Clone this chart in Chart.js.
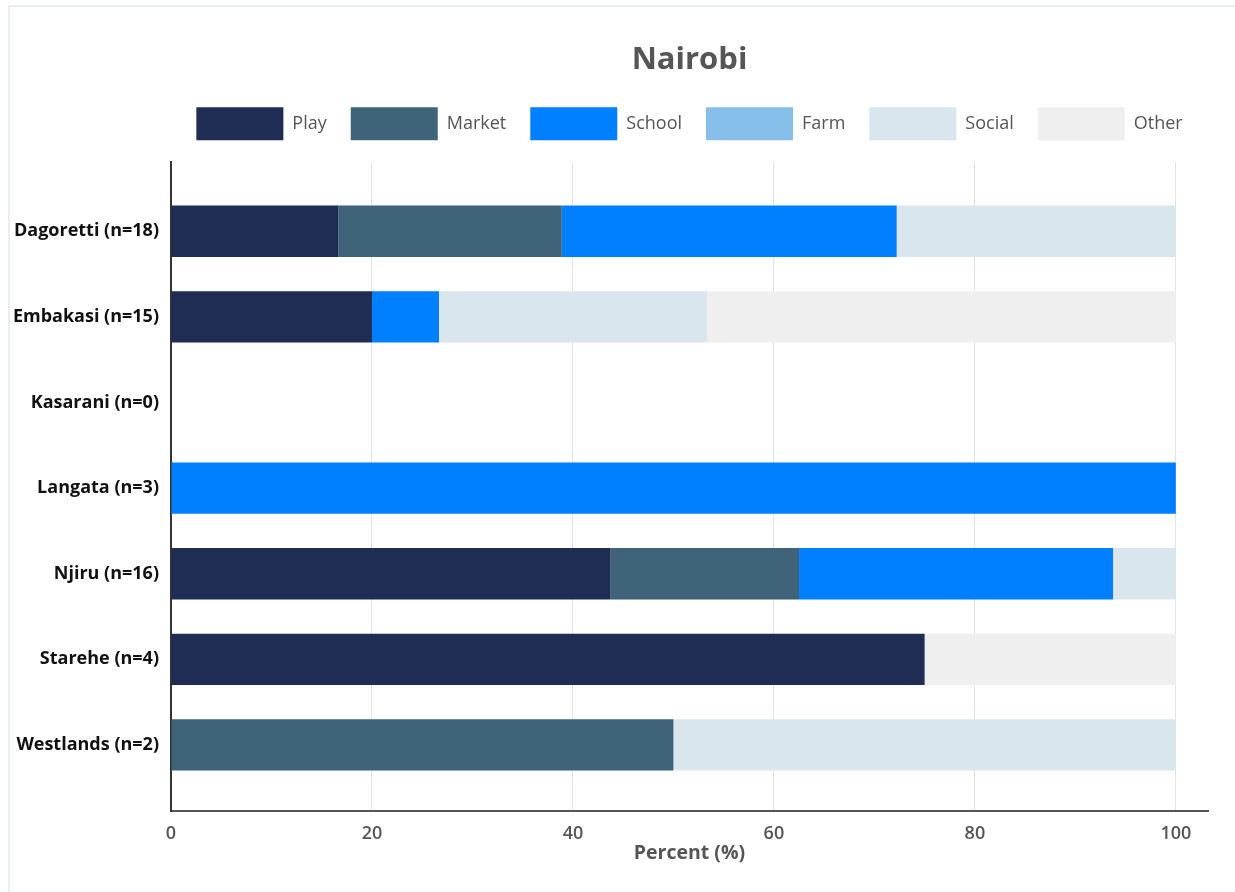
<!DOCTYPE html>
<html>
<head>
<meta charset="utf-8">
<script src="https://cdn.jsdelivr.net/npm/chart.js@4"></script>
<style>
  html, body { margin: 0; padding: 0; background: #ffffff; overflow: hidden; }
  #card { position: absolute; left: 8px; top: 5px; width: 1400px; height: 1000px;
          border-top: 2px solid #e8eff2; border-left: 2px solid #e8eff2; box-sizing: border-box; }
  #wrap { position: absolute; left: 0; top: 0; width: 1235px; height: 892px; }
</style>
</head>
<body>
<div id="card"></div>
<div id="wrap"><canvas id="c" width="1235" height="892"></canvas></div>
<script>
const categories = ["Dagoretti (n=18)", "Embakasi (n=15)", "Kasarani (n=0)", "Langata (n=3)", "Njiru (n=16)", "Starehe (n=4)", "Westlands (n=2)"];
const playValues   = [16.67, 20.00, 0, 0,   43.75, 75, 0];
const marketValues = [22.22, 0,     0, 0,   18.75, 0,  50];
const schoolValues = [33.33, 6.67,  0, 100, 31.25, 0,  0];
const farmValues   = [0,     0,     0, 0,   0,     0,  0];
const socialValues = [27.78, 26.67, 0, 0,   6.25,  0,  50];
const otherValues  = [0,     46.66, 0, 0,   0,     25, 0];
const xTickValues = [0, 20, 40, 60, 80, 100];
const seriesNames = ["Play", "Market", "School", "Farm", "Social", "Other"];
const seriesColors = ["#1f2d54", "#3f6479", "#0080ff", "#85bfea", "#d9e6ed", "#efefef"];
const seriesValues = [playValues, marketValues, schoolValues, farmValues, socialValues, otherValues];

const FONT = "'Open Sans', 'Noto Sans', sans-serif";

const legendGap = {
  id: 'legendGap',
  beforeInit(chart) {
    const origFit = chart.legend.fit;
    chart.legend.fit = function () {
      origFit.call(this);
      this.height += 12;
    };
  }
};

new Chart(document.getElementById('c'), {
  type: 'bar',
  plugins: [legendGap],
  data: {
    labels: categories,
    datasets: seriesNames.map((n, i) => ({
      label: n,
      data: seriesValues[i],
      backgroundColor: seriesColors[i],
      borderWidth: 0,
      categoryPercentage: 0.6,
      barPercentage: 1.0
    }))
  },
  options: {
    indexAxis: 'y',
    responsive: false,
    animation: false,
    layout: { padding: { left: 0, right: 27, top: 0, bottom: 15 } },
    plugins: {
      tooltip: { enabled: false },
      title: {
        display: true,
        text: 'Nairobi',
        fullSize: false,
        color: '#555555',
        font: { family: FONT, size: 31, weight: 'bold' },
        padding: { top: 42, bottom: 4 }
      },
      legend: {
        display: true,
        position: 'top',
        fullSize: false,
        labels: {
          boxWidth: 87,
          boxHeight: 33,
          padding: 24,
          color: '#555555',
          font: { family: FONT, size: 18 }
        }
      }
    },
    scales: {
      x: {
        stacked: true,
        min: 0,
        max: 103.2,
        afterBuildTicks: (axis) => {
          axis.ticks = xTickValues.map(v => ({ value: v }));
        },
        grid: { display: true, color: '#e3e3e3', lineWidth: 1, drawTicks: false },
        border: { display: true, color: '#555555', width: 2 },
        ticks: {
          color: '#555555',
          padding: 12,
          font: { family: FONT, size: 18, weight: '600' }
        },
        title: {
          display: true,
          text: 'Percent (%)',
          color: '#555555',
          font: { family: FONT, size: 19.5, weight: 'bold' },
          padding: { top: -15, bottom: 12 }
        }
      },
      y: {
        stacked: true,
        afterBuildTicks: (axis) => {
          axis._startValue = -0.807;
          axis._valueRange = 7.579;
        },
        afterFit: (axis) => { axis.width = 171; },
        grid: { display: false, drawTicks: false },
        border: { display: true, color: '#333333', width: 2 },
        ticks: {
          color: '#111111',
          padding: 12,
          font: { family: FONT, size: 18, weight: 'bold' }
        }
      }
    }
  }
});
</script>
</body>
</html>
